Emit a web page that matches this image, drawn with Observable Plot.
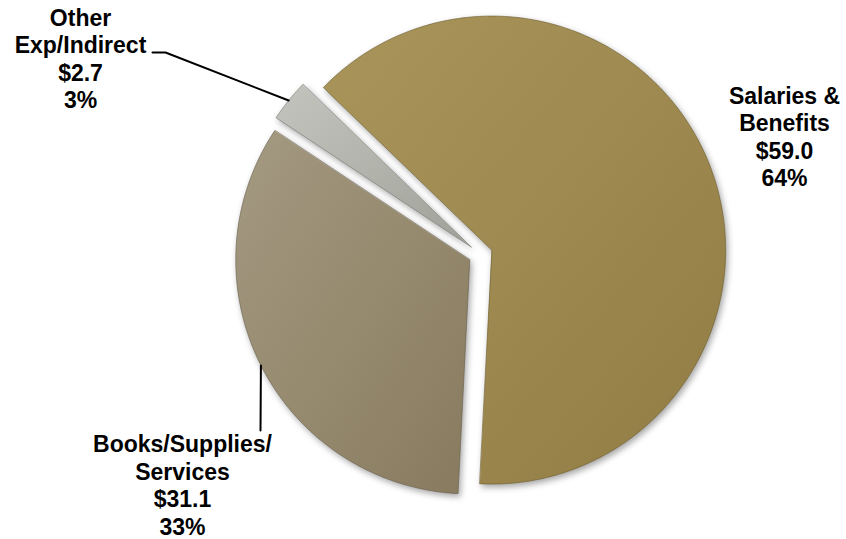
<!DOCTYPE html>
<html>
<head>
<meta charset="utf-8">
<script src="https://cdn.jsdelivr.net/npm/d3@7"></script>
<script src="https://cdn.jsdelivr.net/npm/@observablehq/plot@0.6"></script>
<style>
  html, body { margin: 0; padding: 0; background: #fff; }
  #chart svg { display: block; }
</style>
</head>
<body>
<div id="chart"></div>
<script>
// ---- data ----
const categories = ["Salaries & Benefits", "Books/Supplies/Services", "Other Exp/Indirect"];
const labelLines = [["Salaries &", "Benefits"], ["Books/Supplies/", "Services"], ["Other", "Exp/Indirect"]];
const values = [59.0, 31.1, 2.7];
const percents = [64, 33, 3];

// ---- layout / style ----
const W = 846, H = 539;
const cx = 480, cy = 254, R = 234;       // pie centre and radius (px)
const explodePx = 12;                      // each slice pulled out along its bisector
const startDeg = -46;                      // first slice starts here (clockwise from 12 o'clock)
const baseColors = ["#9f8b51", "#978b70", "#b3b4ac"];
const edgeColors = ["#6e5f30", "#6a604c", "#7a7b75"];
const gradStops = [
  ["#a9955a", "#9e8a50", "#917c44"],
  ["#a49a82", "#968a6f", "#877a5f"],
  ["#c3c4be", "#b2b3ab", "#9fa098"]
];
const labelAnchors = [[784, 83.4], [182, 432], [80, 5.4]];        // px, top of label block
const leaderPoints = [[], [[260, 430]], [[165, 52], [152, 52]]];   // px, from slice edge to label

const px2x = px => (px - cx) / R;
const py2y = py => (cy - py) / R;
const rad = d => d * Math.PI / 180;

const total = d3.sum(values);
let acc = startDeg;
const slices = values.map((v, i) => {
  const a0 = acc, a1 = acc + v / total * 360;
  acc = a1;
  const mid = (a0 + a1) / 2;
  const e = explodePx / R;
  const ox = e * Math.sin(rad(mid)), oy = e * Math.cos(rad(mid));
  const pts = [{x: ox, y: oy}];
  const n = Math.max(4, Math.ceil((a1 - a0) / 0.5));
  for (let k = 0; k <= n; k++) {
    const a = rad(a0 + (a1 - a0) * k / n);
    pts.push({x: ox + Math.sin(a), y: oy + Math.cos(a)});
  }
  const edge = {x: ox + Math.sin(rad(mid)), y: oy + Math.cos(rad(mid))};
  return {i, a0, a1, mid, pts, edge};
});

const marks = [];
slices.forEach(s => {
  marks.push(Plot.line(s.pts, {
    x: "x", y: "y", curve: "linear-closed",
    fill: baseColors[s.i],
    stroke: edgeColors[s.i], strokeWidth: 0.8, strokeOpacity: 0.8
  }));
});
slices.forEach(s => {
  if (!leaderPoints[s.i].length) return;
  const pts = [s.edge, ...leaderPoints[s.i].map(([px, py]) => ({x: px2x(px), y: py2y(py)}))];
  marks.push(Plot.line(pts, {x: "x", y: "y", stroke: "#000", strokeWidth: 2}));
});
const labelData = categories.map((c, i) => ({
  x: px2x(labelAnchors[i][0]),
  y: py2y(labelAnchors[i][1]),
  text: [...labelLines[i], `$${values[i].toFixed(1)}`, `${percents[i]}%`].join("\n")
}));
marks.push(Plot.text(labelData, {
  x: "x", y: "y", text: "text",
  textAnchor: "middle", lineAnchor: "top", lineHeight: 1.2,
  fontSize: 23, fontWeight: "bold", fill: "#000",
  fontFamily: "'Liberation Sans', Arial, Helvetica, sans-serif"
}));

const chart = Plot.plot({
  width: W, height: H, margin: 0,
  x: {domain: [px2x(0), px2x(W)], axis: null},
  y: {domain: [py2y(H), py2y(0)], axis: null},
  style: {background: "#fff"},
  marks
});

const svg = d3.select(chart);
const defs = svg.insert("defs", ":first-child");
gradStops.forEach((cs, i) => {
  const g = defs.append("linearGradient").attr("id", `grad-${i}`)
    .attr("x1", 0).attr("y1", 0).attr("x2", 1).attr("y2", 1);
  cs.forEach((c, k) => g.append("stop").attr("offset", k / (cs.length - 1)).attr("stop-color", c));
});
// the first three line groups are the slices (in slice order)
const sliceGroups = svg.selectAll('g[aria-label="line"]').nodes().slice(0, slices.length);
sliceGroups.forEach((node, i) => {
  const g = d3.select(node);
  g.style("filter", "drop-shadow(2px 3px 3px rgba(0,0,0,0.35))");
  g.selectAll("path").attr("fill", `url(#grad-${i})`);
});

document.getElementById("chart").appendChild(chart);
</script>
</body>
</html>
